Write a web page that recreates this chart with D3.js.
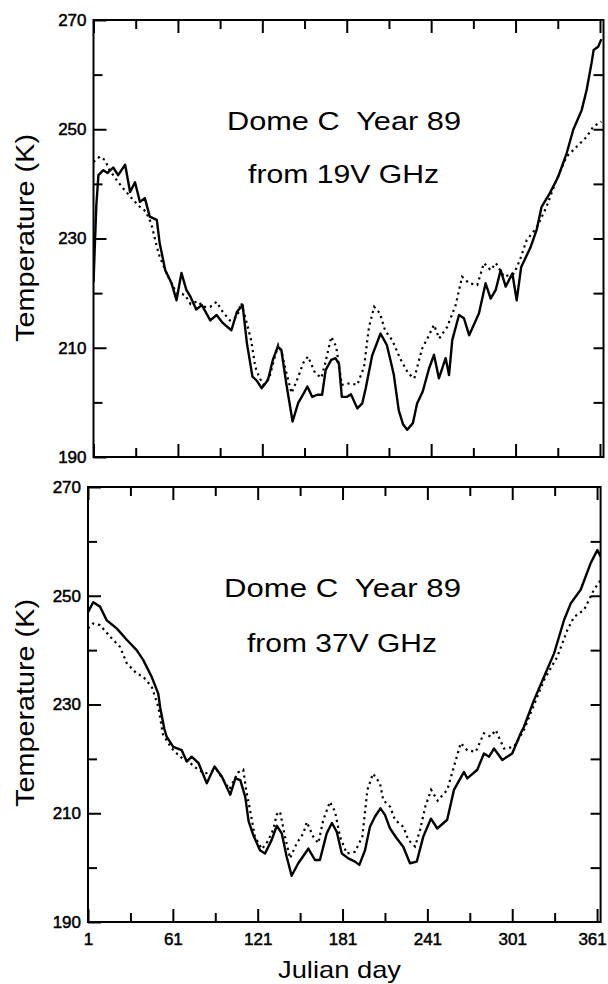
<!DOCTYPE html>
<html><head><meta charset="utf-8">
<script src="https://cdn.jsdelivr.net/npm/d3@7"></script>
<style>body{margin:0;background:#fff}svg{display:block}</style>
</head><body>
<svg id="c" width="608" height="984"></svg>
<script>
// ---- data ----
const xTickDays = [1, 61, 121, 181, 241, 301, 361];
const xMinorDays = [31, 91, 151, 211, 271, 331];
const yTickTemps = [190, 210, 230, 250, 270];
const yMinorTemps = [200, 220, 240, 260];
const yRightTemps = [200, 210, 220, 230, 240, 250, 260];
const panelTitles = ["Dome C  Year 89", "Dome C  Year 89"];
const panelSubtitles = ["from 19V GHz", "from 37V GHz"];
const yLabel = "Temperature (K)";
const xLabel = "Julian day";

// 19V panel, solid line
const solid19Days = [1,3,4.5,8,11,15,18.5,23.5,27,30.5,34,37.5,41,46,48,52,56.5,60,63.5,67,70,74,78,84,88.5,93,99,103,107,110,114,117,120.5,125,128.5,132,134.5,138,140,142.5,146.5,150.5,153,156.5,160,163.5,166,170,173,175.5,177.5,181,184,188.5,192,194.5,199,205,209.5,212,214.5,218,221,224,228,231,235,239.5,243,246.5,251.3,253.7,256,260.8,264.3,268,275,279.7,283.3,286.9,290.4,294,298.7,301.8,305,311.5,316,319.5,325.4,331.3,337.3,342,348,351.5,355,356.5,359.7,362];
const solid19Temps = [222,236,241.6,242.5,242,243,241.6,243.5,238.5,240.3,236.7,237.4,234,233.4,229.2,224.2,221.8,218.7,223.7,220.6,219.3,217,217.8,215,216,214.5,213.2,216.6,217.8,210.9,204.7,204,202.6,204.1,207.8,210.2,209.6,203.5,200.4,196.5,199.9,201.7,202.9,201,201.4,201.4,205.9,207.8,208.1,207,201,201,201.5,198.9,199.8,202.6,208.5,212.6,210.5,207.8,205,198.5,196,195,196.2,199.8,202,206.2,208.7,204.4,208.1,205,211.4,216,215.4,212.3,216.3,221.8,219,220.6,224.2,221.2,223.6,218.7,224.8,228.3,231.6,235.8,238.3,241.3,245.6,249.9,253.5,257.2,262.1,264.5,265.1,266.5];
// 19V panel, dotted line
const dot19Days = [1,5.5,9,12.5,17.5,22,27,33,38,42,46,48,53,60,66,70,75,79,84,88.5,93,98,103,106,110,113,116,119,121.7,126,129,132.3,135,137,141.8,146.6,150,153.5,158.4,163,166,170,173.5,177.5,183.3,188.5,193.3,196.8,200.5,204.6,208.2,213.5,218.8,224.7,229,234.5,239.5,243,246.7,252.4,258.4,263,268,273.8,278.5,283.3,287,292.8,299.9,304,308.9,316,323,330,337.3,344.4,351.5,356.3,362];
const dot19Temps = [244,245,244.4,242.5,240.7,239.2,237.7,236,235,232.8,228.5,226.7,223.6,220,219.7,218,218.5,217.5,217.5,218.4,216.5,215,215.7,218.2,214.5,211.4,206.5,204.5,203.2,204.5,207.5,210.5,209,206.5,201.7,204.7,207.2,208.4,205.4,204.5,207.5,212,210.2,203.2,203.5,203.2,206.5,213.8,217.5,216.3,213.2,211.3,208.1,205.3,204.4,209.8,212.3,214.2,211.7,213.8,217.8,223,221.8,221.5,225.5,224.2,225.5,223,223.6,226,229.7,232,235.8,240.7,245,246.8,248.6,250.5,251.4];
// 37V panel, solid line
const solid37Days = [1,4.7,9.5,14.2,21.3,28.4,35.4,40,46,50.7,52,55,56.6,61.3,67.3,70.8,74.3,79.2,85,90.5,95.7,101.6,105.2,108.7,112.2,114.6,117.9,122.6,126.2,130.9,134.5,138,141.5,145,149.7,154.5,156.8,161.5,165,169.8,173.5,176.9,180.5,185.1,189.8,192.9,196.9,200.4,204,207.8,211,214.6,219.3,224,228.7,233.5,238.1,243.5,248,255,259.8,266.9,269.2,276.3,281,284.6,288.1,294,301,307,309.3,316.4,323.5,330.6,337.6,342.4,349.4,356.5,361.2,363.6];
const solid37Temps = [247,248.8,248,245.5,244,241.9,240,238.2,235.1,232,229.5,225.5,224.1,222.2,221.6,219.5,220.4,219.2,215.5,218.6,216.7,213.4,216.4,216.1,213,208.5,206,203.2,202.6,205.1,207.7,206.3,202,198.5,200.8,202.6,203.5,201.4,201.4,206.3,208.2,206.6,202.6,201.7,201.1,200.5,203.2,207.5,209.4,210.9,209.7,207.2,205.4,203.8,200.8,201.1,205.7,209,207.2,208.8,214.3,217.6,216.4,218,221,220.4,221.9,219.8,221,224.7,225.9,230.8,235.1,239.4,245.5,248.6,251.1,256,258.4,257.2];
// 37V panel, dotted line
const dot37Days = [1,4.7,9.5,16.6,23.6,28.4,35.4,40,46,50.7,54,60,66,72,79,83.7,92,101,107,110.8,113,115.6,119,124,128,132,134.5,136.8,140.3,143.9,148.6,153.3,155.7,160.3,163.9,167.4,172.1,175.7,179.2,184,189.8,195,198.6,202.5,207.5,209.8,214.6,218.1,224,227.5,232.3,235.8,239.6,243.7,248.3,255.1,259.8,264.6,269.2,275.2,281,285.7,289.3,295.2,302.2,309.3,314,323.5,332.9,340,344.7,351.8,358.8,363.6];
const dot37Temps = [244,244.9,244.6,242.5,240.6,237.6,235.7,235.1,233.3,229.6,224.5,222,220.4,219.5,218,217.3,218,214.4,217.5,218,214,210.6,205.7,203.4,204.8,207,209.8,210.3,205.7,201.7,204.5,206.3,208.4,205.7,204.5,208.8,212.1,210.3,205.7,202.6,202.9,205.7,214.3,217.3,215.5,212.4,211.2,208.8,207.5,205.1,203.9,206.9,211.3,214.3,212.3,214.3,218.6,222.9,221.6,221.3,224.7,224.1,225.3,221.9,222.2,225.3,228.4,234.5,238.8,243.7,246.1,247.4,251.1,252.9];

// ---- drawing ----
const svg = d3.select("#c");
const zip = (ds, ts) => ds.map((d, i) => [d, ts[i]]);

const panels = [
  {x0: 93.5, x1: 603.5, y0: 20, y1: 457, solid: zip(solid19Days, solid19Temps), dot: zip(dot19Days, dot19Temps),
   title: panelTitles[0], sub: panelSubtitles[0], tx: 227, tw: 234, ty: 130, sx: 248, sw: 191, sy: 183, labelCy: 238, labelX: 34, bottomLabels: false},
  {x0: 88, x1: 600.6, y0: 487, y1: 922, solid: zip(solid37Days, solid37Temps), dot: zip(dot37Days, dot37Temps),
   title: panelTitles[1], sub: panelSubtitles[1], tx: 224, tw: 237, ty: 597, sx: 247, sw: 190, sy: 652, labelCy: 703, labelX: 34, bottomLabels: true}
];

const font = "'Liberation Sans', Arial, sans-serif";

panels.forEach((p, pi) => {
  const x = d3.scaleLinear().domain([1, 363.5]).range([p.x0, p.x1]);
  const y = d3.scaleLinear().domain([190, 270]).range([p.y1, p.y0]);
  const g = svg.append("g");
  const clipId = "clip" + pi;
  svg.append("clipPath").attr("id", clipId).append("rect")
    .attr("x", p.x0).attr("y", p.y0).attr("width", p.x1 - p.x0).attr("height", p.y1 - p.y0);

  const line = d3.line().x(d => x(d[0])).y(d => y(d[1]));
  g.append("path").datum(p.dot).attr("d", line).attr("clip-path", `url(#${clipId})`)
    .attr("fill", "none").attr("stroke", "#000").attr("stroke-width", 2.2)
    .attr("stroke-dasharray", "2.2,3.8");
  g.append("path").datum(p.solid).attr("d", line).attr("clip-path", `url(#${clipId})`)
    .attr("fill", "none").attr("stroke", "#000").attr("stroke-width", 2.4).attr("stroke-linejoin", "round");

  function styleAxis(sel) {
    sel.select(".domain").remove();
    sel.selectAll(".tick line").attr("stroke", "#000").attr("stroke-width", 2);
    sel.selectAll("text").attr("font-family", font).attr("font-size", 17).attr("fill", "#000")
      .attr("stroke", "#000").attr("stroke-width", 0.5);
  }
  // left axis: major with labels
  g.append("g").attr("transform", `translate(${p.x0},0)`)
    .call(d3.axisLeft(y).tickValues(yTickTemps).tickSizeInner(-13).tickSizeOuter(0).tickPadding(7).tickFormat(d3.format("d")))
    .call(styleAxis);
  g.append("g").attr("transform", `translate(${p.x0},0)`)
    .call(d3.axisLeft(y).tickValues(yMinorTemps).tickSizeInner(-9).tickSizeOuter(0).tickFormat(""))
    .call(styleAxis);
  // right axis
  g.append("g").attr("transform", `translate(${p.x1},0)`)
    .call(d3.axisRight(y).tickValues(yRightTemps).tickSizeInner(-10).tickSizeOuter(0).tickFormat(""))
    .call(styleAxis);
  // top axis
  g.append("g").attr("transform", `translate(0,${p.y0})`)
    .call(d3.axisTop(x).tickValues(xTickDays).tickSizeInner(-13).tickSizeOuter(0).tickFormat(""))
    .call(styleAxis);
  g.append("g").attr("transform", `translate(0,${p.y0})`)
    .call(d3.axisTop(x).tickValues(xMinorDays).tickSizeInner(-9).tickSizeOuter(0).tickFormat(""))
    .call(styleAxis);
  // bottom axis
  const bAxis = g.append("g").attr("transform", `translate(0,${p.y1})`)
    .call(d3.axisBottom(x).tickValues(xTickDays).tickSizeInner(-13).tickSizeOuter(0).tickPadding(11)
      .tickFormat(p.bottomLabels ? d3.format("d") : ""))
    .call(styleAxis);
  bAxis.selectAll(".tick text").filter(d => d === 361).attr("dx", -5);
  g.append("g").attr("transform", `translate(0,${p.y1})`)
    .call(d3.axisBottom(x).tickValues(xMinorDays).tickSizeInner(-9).tickSizeOuter(0).tickFormat(""))
    .call(styleAxis);

  // frame
  g.append("rect").attr("x", p.x0).attr("y", p.y0).attr("width", p.x1 - p.x0).attr("height", p.y1 - p.y0)
    .attr("fill", "none").attr("stroke", "#000").attr("stroke-width", 2);

  // titles
  g.append("text").attr("x", p.tx).attr("y", p.ty).text(p.title)
    .attr("font-family", font).attr("font-size", 25).attr("fill", "#000")
    .style("white-space", "pre").attr("textLength", p.tw).attr("lengthAdjust", "spacingAndGlyphs");
  g.append("text").attr("x", p.sx).attr("y", p.sy).text(p.sub)
    .attr("font-family", font).attr("font-size", 25).attr("fill", "#000")
    .style("white-space", "pre").attr("textLength", p.sw).attr("lengthAdjust", "spacingAndGlyphs");

  // y label
  g.append("text").attr("transform", `translate(${p.labelX},${p.labelCy}) rotate(-90)`)
    .attr("text-anchor", "middle").text(yLabel)
    .attr("font-family", font).attr("font-size", 25).attr("fill", "#000")
    .attr("textLength", 208).attr("lengthAdjust", "spacingAndGlyphs");
});

svg.append("text").attr("x", 278).attr("y", 978).text(xLabel)
  .attr("font-family", font).attr("font-size", 24).attr("fill", "#000")
  .attr("textLength", 123).attr("lengthAdjust", "spacingAndGlyphs");
</script>
</body></html>
